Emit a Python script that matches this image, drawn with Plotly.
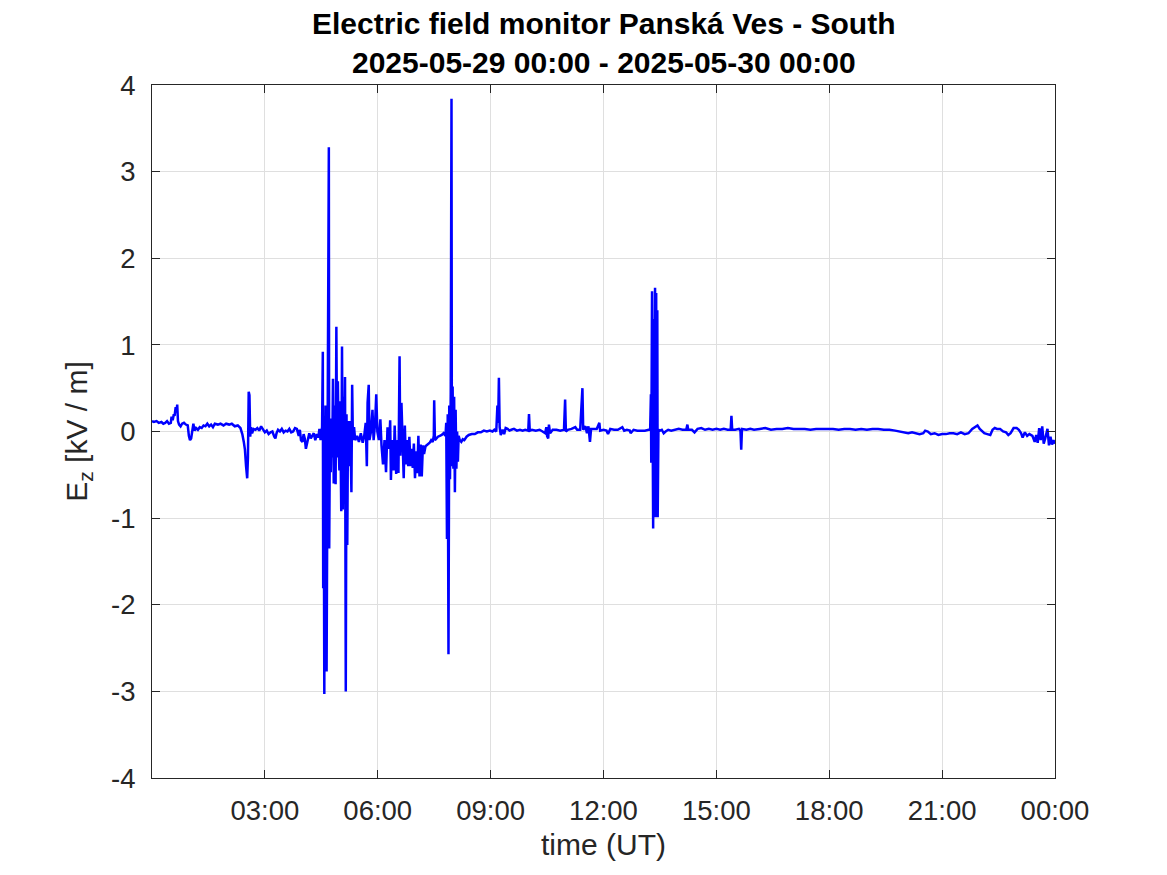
import pandas as pd
import plotly.graph_objects as go

# ---- data (hours after 2025-05-29 00:00 UT, Ez in kV/m) ----
hours = [
    0.00, 0.05, 0.12, 0.18, 0.25, 0.30, 0.35, 0.40, 0.45, 0.50, 0.52, 0.55, 0.58, 0.60, 0.63, 0.65, 0.67, 0.69,
    0.72, 0.76, 0.80, 0.85, 0.90, 0.95, 0.98, 1.01, 1.04, 1.07, 1.10, 1.13, 1.17, 1.22, 1.27, 1.32, 1.37, 1.42,
    1.47, 1.52, 1.57, 1.62, 1.67, 1.75, 1.82, 1.90, 1.97, 2.05, 2.12, 2.20, 2.28, 2.35, 2.40, 2.44, 2.47, 2.50,
    2.53, 2.55, 2.57, 2.59, 2.61, 2.63, 2.66, 2.70, 2.75, 2.80, 2.85, 2.90, 2.95, 3.00, 3.05, 3.10, 3.15, 3.20,
    3.25, 3.28, 3.31, 3.35, 3.40, 3.45, 3.50, 3.55, 3.60, 3.65, 3.70, 3.75, 3.80, 3.85, 3.90, 3.93, 3.96, 4.00,
    4.03, 4.06, 4.09, 4.12, 4.15, 4.18, 4.22, 4.26, 4.30, 4.34, 4.38, 4.42, 4.45,
    4.48, 4.52, 4.54, 4.55, 4.56, 4.58, 4.59, 4.61, 4.63, 4.64, 4.66, 4.68, 4.70, 4.71, 4.73, 4.75, 4.77, 4.79,
    4.81, 4.83, 4.85, 4.88, 4.90, 4.92, 4.94, 4.96, 4.98, 5.00, 5.03, 5.05, 5.07, 5.09, 5.11, 5.13, 5.15, 5.17,
    5.19, 5.21, 5.24, 5.27, 5.30, 5.32, 5.34, 5.37, 5.40, 5.45, 5.50, 5.55, 5.60, 5.64, 5.68, 5.71, 5.73, 5.76,
    5.78, 5.82, 5.86, 5.89, 5.93, 5.96, 5.99, 6.03, 6.07, 6.10, 6.14, 6.18, 6.22, 6.26, 6.30, 6.33, 6.35, 6.38,
    6.42, 6.45, 6.49, 6.53, 6.55, 6.58, 6.60, 6.63, 6.66, 6.69, 6.72, 6.75, 6.78, 6.81, 6.84, 6.87, 6.90, 6.93,
    6.96, 6.99, 7.02, 7.05, 7.08, 7.11, 7.14, 7.17, 7.20, 7.23, 7.27, 7.30, 7.34, 7.38, 7.42, 7.46, 7.49, 7.50,
    7.52, 7.56, 7.60, 7.65, 7.70, 7.75, 7.80, 7.82, 7.84, 7.86, 7.88, 7.90, 7.92, 7.94, 7.96, 7.97, 7.99, 8.01,
    8.03, 8.05, 8.07, 8.09, 8.11, 8.13, 8.15, 8.18, 8.22, 8.26, 8.30, 8.36, 8.42, 8.50, 8.58, 8.66, 8.74, 8.82,
    8.90, 8.98, 9.05, 9.10, 9.15, 9.18, 9.20, 9.22, 9.24, 9.27, 9.32, 9.36, 9.40, 9.45,
    9.50, 9.55, 9.62, 9.70, 9.78, 9.85, 9.92, 10.00, 10.02, 10.04, 10.10, 10.20, 10.30, 10.38, 10.45, 10.48,
    10.50, 10.53, 10.55, 10.58, 10.65, 10.75, 10.85, 10.95, 10.98, 11.00, 11.05, 11.15, 11.25, 11.30, 11.38,
    11.44, 11.46, 11.52, 11.56, 11.60, 11.64, 11.67, 11.75, 11.82, 11.89, 11.91, 12.00, 12.08, 12.12, 12.18,
    12.28, 12.38, 12.50, 12.55, 12.62, 12.70, 12.72, 12.80, 12.90, 13.00, 13.10, 13.20,
    13.24, 13.26, 13.27, 13.29, 13.30, 13.32, 13.33, 13.35, 13.37, 13.38, 13.40, 13.41, 13.43, 13.44, 13.46,
    13.50, 13.55, 13.60, 13.65, 13.72, 13.80, 13.90, 14.00, 14.10, 14.20, 14.23, 14.25, 14.35, 14.42, 14.50,
    14.60, 14.70, 14.80, 14.90, 15.00, 15.10, 15.20, 15.30, 15.38, 15.40, 15.42, 15.50, 15.60, 15.64, 15.66,
    15.68, 15.80,
    15.90, 16.00, 16.15, 16.30, 16.45, 16.60, 16.75, 16.90, 17.05, 17.20, 17.35, 17.50, 17.65, 17.80, 17.95,
    18.10, 18.25, 18.40, 18.55, 18.70, 18.85, 19.00, 19.15, 19.30, 19.45, 19.60, 19.75, 19.90, 20.00, 20.10,
    20.20, 20.30, 20.40, 20.50, 20.55, 20.62, 20.70, 20.80, 20.90, 21.00, 21.10, 21.20, 21.30, 21.40, 21.50,
    21.60, 21.70, 21.80, 21.88, 21.94, 22.00, 22.06, 22.12, 22.20, 22.28, 22.34, 22.40, 22.46, 22.54, 22.62,
    22.70, 22.76, 22.82, 22.90, 22.98, 23.04, 23.10, 23.14, 23.20, 23.26, 23.32, 23.40, 23.46, 23.50, 23.54,
    23.58, 23.62, 23.66, 23.70, 23.74, 23.80, 23.84, 23.88, 23.92, 23.96, 24.00,
]

ez_kv_per_m = [
    0.12, 0.11, 0.12, 0.10, 0.11, 0.09, 0.10, 0.12, 0.09, 0.10, 0.17, 0.13, 0.20, 0.18, 0.28, 0.22, 0.31, 0.12,
    0.08, 0.06, 0.09, 0.10, 0.08, 0.07, -0.05, -0.10, -0.08, 0.02, 0.09, 0.01, 0.04, 0.02, 0.05, 0.04, 0.07, 0.06,
    0.09, 0.06, 0.08, 0.05, 0.09, 0.08, 0.09, 0.07, 0.09, 0.08, 0.09, 0.06, 0.07, 0.04, -0.03, -0.12, -0.21, -0.40,
    -0.54, -0.30, 0.46, 0.42, -0.06, 0.05, -0.02, 0.03, 0.02, 0.04, 0.01, 0.06, 0.02, -0.01, 0.01, -0.03, -0.01, 0.00,
    -0.06, -0.08, -0.02, 0.02, 0.00, 0.03, -0.01, 0.01, 0.00, 0.03, -0.01, 0.00, 0.04, 0.03, -0.05, 0.02, -0.10, -0.12,
    -0.03, -0.08, -0.20, -0.14, -0.05, -0.02, -0.08, -0.05, -0.02, -0.10, -0.03, -0.07, 0.03,
    -0.10, 0.05, 0.92, -1.81, 0.30, -3.03, 0.10, -0.80, 0.30, -2.77, -0.40, 0.50, 3.28, -1.35, 0.10, -0.47, 0.15, -0.30,
    0.61, -0.60, 0.30, -0.61, 1.21, -0.30, 0.58, -0.15, -0.45, 0.35, -0.92, 0.98, -0.90, 0.40, -0.30, 0.63, -3.00, 0.20,
    -1.31, 0.12, -0.40, 0.12, -0.70, 0.54, -0.10, 0.05, -0.10, -0.05, -0.12, -0.02, -0.13, -0.05, 0.10, -0.40, 0.33, 0.54,
    -0.10, 0.00, 0.25, -0.10, 0.10, 0.43, 0.00, -0.10, 0.14, -0.16, -0.38, -0.10, -0.47, 0.05, -0.20, 0.13, -0.56, -0.10,
    -0.45, 0.07, -0.49, -0.10, -0.48, 0.87, -0.28, 0.33, -0.20, -0.54, 0.07, -0.38, -0.10, -0.40, -0.06, -0.40, -0.20, -0.42,
    -0.14, -0.54, -0.23, -0.48, -0.05, -0.52, -0.15, -0.52, -0.16, -0.26, -0.17, -0.16, -0.15, -0.13, -0.10, -0.12, -0.05, 0.36,
    -0.10, -0.08, -0.06, -0.05, -0.04, -0.02, -0.05, 0.10, -1.24, 0.20, -2.57, 0.30, -0.55, 0.45, 3.84, -0.40, 0.52, -0.43,
    0.40, -0.70, 0.25, -0.43, 0.00, -0.35, -0.05, -0.10, -0.12, -0.09, -0.10, -0.06, -0.04, -0.03, -0.03, -0.01, -0.01, 0.01,
    0.00, 0.01, 0.00, 0.02, 0.00, 0.30, 0.10, 0.62, 0.05, -0.04, 0.02, -0.03, 0.04, 0.03,
    0.01, 0.02, 0.03, 0.01, 0.02, 0.01, 0.02, 0.01, 0.20, 0.01, 0.02, 0.01, 0.02, 0.00, -0.02, 0.05,
    -0.05, -0.08, 0.08, -0.02, 0.02, 0.02, 0.01, 0.02, 0.37, 0.00, 0.02, 0.03, 0.05, 0.02, 0.02,
    0.50, 0.02, 0.06, -0.02, 0.06, -0.12, 0.03, 0.03, 0.03, 0.10, 0.01, 0.02, 0.01, -0.03, 0.03,
    0.02, 0.02, 0.05, 0.01, 0.02, 0.01, -0.02, 0.02, 0.01, 0.01, 0.01, 0.02,
    0.02, 0.43, -0.36, 1.62, -0.49, -1.12, 1.30, -0.90, 1.66, -0.99, 1.60, -0.95, 1.40, -0.99, 0.02,
    0.01, 0.02, -0.02, 0.00, 0.02, 0.01, 0.02, 0.03, 0.02, 0.02, 0.08, 0.02, 0.02, -0.01, 0.03,
    0.04, 0.02, 0.03, 0.02, 0.03, 0.02, 0.03, 0.02, 0.02, 0.18, 0.02, 0.02, 0.03, 0.01, -0.21,
    0.03, 0.02,
    0.03, 0.02, 0.03, 0.04, 0.02, 0.03, 0.03, 0.04, 0.03, 0.03, 0.03, 0.02, 0.03, 0.03, 0.03,
    0.03, 0.02, 0.03, 0.03, 0.02, 0.03, 0.02, 0.03, 0.03, 0.02, 0.02, 0.01, 0.00, -0.01, -0.02,
    -0.01, -0.02, -0.03, -0.02, 0.01, 0.00, -0.03, -0.02, -0.04, -0.03, -0.03, -0.02, -0.02, -0.03, -0.01,
    -0.03, -0.02, 0.03, 0.05, 0.07, 0.03, 0.01, -0.02, -0.03, -0.04, 0.02, 0.04, 0.03, 0.03, 0.00,
    -0.01, -0.04, -0.02, 0.04, 0.04, 0.02, -0.02, -0.07, -0.01, -0.05, -0.03, -0.05, -0.12, -0.04, -0.13,
    0.04, -0.10, 0.06, -0.14, -0.08, 0.03, -0.16, -0.06, -0.15, -0.10, -0.14,
]

tick_hours = [3, 6, 9, 12, 15, 18, 21, 24]
tick_labels = ["03:00", "06:00", "09:00", "12:00", "15:00", "18:00", "21:00", "00:00"]
y_ticks = [-4, -3, -2, -1, 0, 1, 2, 3, 4]
y_tick_labels = ["-4", "-3", "-2", "-1", "0", "1", "2", "3", "4"]

base = pd.Timestamp("2025-05-29 00:00")
times = base + pd.to_timedelta(hours, unit="h")
tick_times = base + pd.to_timedelta(tick_hours, unit="h")

FONT = "Arial, Liberation Sans, sans-serif"
AX = "#262626"

# page body has an 8px margin -> plot area at x 152..1055, y 85..778 in the screenshot
fig = go.Figure()
fig.add_trace(go.Scatter(x=times, y=ez_kv_per_m, mode="lines",
                         line=dict(color="#0000FF", width=2.5), showlegend=False))

fig.update_layout(
    width=1167, height=875,
    paper_bgcolor="white", plot_bgcolor="white",
    margin=dict(l=144, r=120, t=77, b=105),
    font=dict(family=FONT, color=AX),
    annotations=[
        dict(text="<b>Electric field monitor Panská Ves - South</b>", xref="paper", yref="paper",
             x=0.5, y=(778 - 24) / 693, xanchor="center", yanchor="middle", showarrow=False,
             font=dict(size=30, color="black", family=FONT)),
        dict(text="<b>2025-05-29 00:00 - 2025-05-30 00:00</b>", xref="paper", yref="paper",
             x=0.5, y=(778 - 63) / 693, xanchor="center", yanchor="middle", showarrow=False,
             font=dict(size=30, color="black", family=FONT)),
    ],
)

fig.update_xaxes(
    type="date", range=[base, base + pd.Timedelta(hours=24)],
    tickmode="array", tickvals=tick_times, ticktext=tick_labels,
    ticks="inside", ticklen=8, tickcolor=AX, tickwidth=1, ticklabelstandoff=8,
    showline=True, linecolor=AX, linewidth=1, mirror="ticks",
    showgrid=True, gridcolor="#dfdfdf", gridwidth=1,
    tickfont=dict(size=27.5, color=AX), zeroline=False,
    title=dict(text="time (UT)", font=dict(size=30, color=AX), standoff=8),
)
fig.update_yaxes(
    range=[-4, 4], tickmode="array", tickvals=y_ticks, ticktext=y_tick_labels,
    ticks="inside", ticklen=8, tickcolor=AX, tickwidth=1, ticklabelstandoff=10,
    showline=True, linecolor=AX, linewidth=1, mirror="ticks",
    showgrid=True, gridcolor="#dfdfdf", gridwidth=1, zeroline=False,
    tickfont=dict(size=27.5, color=AX),
    title=dict(text="E<sub>z</sub> [kV / m]", font=dict(size=30, color=AX), standoff=14),
)

fig.write_html("out.html")
